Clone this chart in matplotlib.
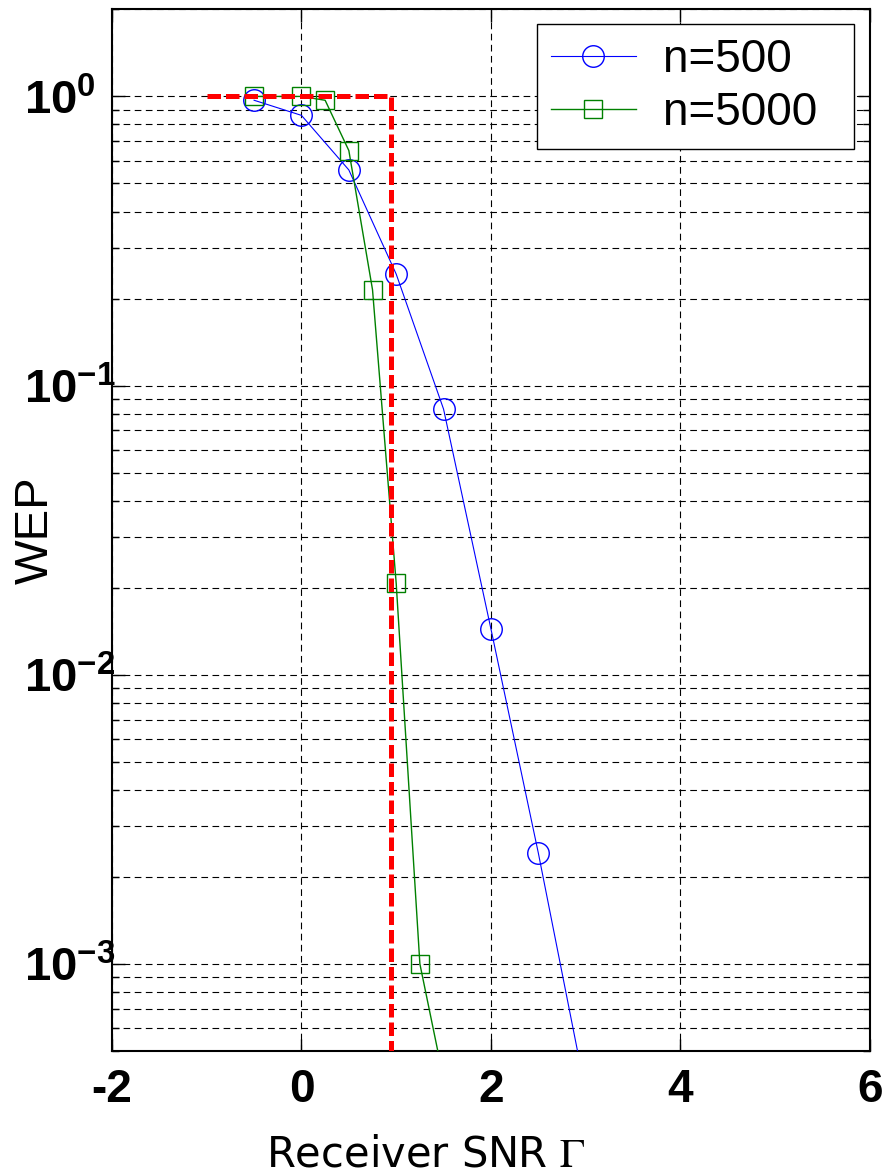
import matplotlib
matplotlib.use("Agg")
import matplotlib.pyplot as plt
from matplotlib.ticker import LogLocator, NullFormatter, FixedLocator

plt.rcParams['mathtext.fontset'] = 'stix'
plt.rcParams['axes.unicode_minus'] = False

# ---- data ----
snr_500 = [-0.5, 0.0, 0.5, 1.0, 1.5, 2.0, 2.5, 3.0]
wep_500 = [0.97, 0.86, 0.557, 0.243, 0.0829, 0.0144, 0.00242, 0.00036]

snr_5000 = [-0.5, 0.0, 0.25, 0.5, 0.75, 1.0, 1.25, 1.5]
wep_5000 = [1.0, 1.0, 0.97, 0.65, 0.2146, 0.0207, 0.001, 0.0004]

limit_snr = 0.94
limit_x = [-1.0, limit_snr, limit_snr]
limit_y = [1.0, 1.0, 1e-4]

labels = ['n=500', 'n=5000']
x_ticks = [-2, 0, 2, 4, 6]

fig = plt.figure(figsize=(8.83, 11.73), dpi=100)
ax = fig.add_axes([0.1268, 0.104, 0.8584, 0.888])

l1, = ax.plot(snr_500, wep_500, color='#0000FF', lw=0.8, marker='o', ms=15.5,
              mfc='none', mec='#0000FF', mew=1.0, zorder=4)
l2, = ax.plot(snr_5000, wep_5000, color='#008000', lw=1.0, marker='s', ms=13,
              mfc='none', mec='#008000', mew=1.0, zorder=4)
ax.plot(limit_x, limit_y, color='#FF0000', lw=3.6, dashes=(2.7, 1.0), zorder=5)

ax.set_yscale('log')
ax.set_xlim(-2, 6)
ax.set_ylim(5e-4, 2)
ax.xaxis.set_major_locator(FixedLocator(x_ticks))
ax.yaxis.set_major_locator(LogLocator(base=10, numticks=10))
ax.yaxis.set_minor_locator(LogLocator(base=10, subs=range(2, 10), numticks=50))
ax.yaxis.set_minor_formatter(NullFormatter())

ax.grid(True, which='major', axis='x', color='black', lw=0.8, ls=(0, (6, 4)))
ax.grid(True, which='both', axis='y', color='black', lw=0.8, ls=(0, (6, 4)))

for s in ax.spines.values():
    s.set_linewidth(1.5)

ax.tick_params(which='both', direction='in', top=True, right=True, width=1.0)
ax.tick_params(which='major', length=9)
ax.tick_params(which='minor', length=5)
ax.tick_params(axis='x', pad=12)
ax.tick_params(axis='y', pad=63)

for lab in ax.get_xticklabels():
    lab.set_fontfamily('Liberation Sans')
    lab.set_fontweight('bold')
    lab.set_fontsize(33)
fig.canvas.draw()
for lab in ax.get_yticklabels():
    lab.set_fontfamily('Liberation Sans')
    lab.set_fontweight('bold')
    lab.set_fontsize(34)
    lab.set_horizontalalignment('left')

ax.set_ylabel('WEP', fontsize=34, family='Liberation Sans')
ax.yaxis.set_label_coords(-0.072, 0.5)

ax.set_xlabel(r'Receiver SNR $\Gamma$', fontsize=30, family='DejaVu Sans')
ax.xaxis.set_label_coords(0.414, -0.1105)
ax.xaxis.label.set_verticalalignment('baseline')

leg = ax.legend([l1, l2], [t + '\u2002' for t in labels],
                loc='upper right', bbox_to_anchor=(0.979, 0.9856),
                borderaxespad=0, fancybox=False, framealpha=1,
                edgecolor='black', prop={'family': 'Liberation Sans', 'size': 33},
                handlelength=1.85, handletextpad=0.6, borderpad=0.3,
                labelspacing=0.2)
leg.get_frame().set_linewidth(1.0)

fig.savefig('out.png', dpi=100)
